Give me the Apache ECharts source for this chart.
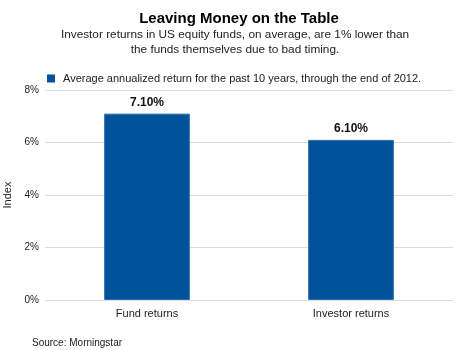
<!DOCTYPE html>
<html><head><meta charset="utf-8">
<script src="https://cdn.jsdelivr.net/npm/echarts@6/dist/echarts.min.js"></script>
<style>html,body{margin:0;padding:0;background:#fff}#c{width:470px;height:350px}</style>
</head><body><div id="c"></div>
<script>
const categories = ['Fund returns', 'Investor returns'];
const values = [7.10, 6.10];
const seriesName = 'Average annualized return for the past 10 years, through the end of 2012.';
const yTicks = [0, 2, 4, 6, 8];

const chart = echarts.init(document.getElementById('c'), null, {renderer: 'canvas'});
const F = 'Liberation Sans, Arial, sans-serif';
chart.setOption({
  animation: false,
  textStyle: {fontFamily: F},
  title: [{
    text: 'Leaving Money on the Table',
    left: 234, top: 6, textAlign: 'center',
    textStyle: {fontSize: 15, fontWeight: 'bold', color: '#000', fontFamily: F}
  }, {
    text: 'Investor returns in US equity funds, on average, are 1% lower than\nthe funds themselves due to bad timing.',
    left: 230, top: 22, textAlign: 'center',
    textStyle: {fontSize: 11.8, fontWeight: 'normal', color: '#222', lineHeight: 15, fontFamily: F}
  }, {
    text: 'Source: Morningstar',
    left: 27, top: 333,
    textStyle: {fontSize: 10, fontWeight: 'normal', color: '#222', fontFamily: F}
  }],
  legend: {
    left: 42, top: 68, itemWidth: 8, itemHeight: 8, itemGap: 0,
    icon: 'rect',
    itemStyle: {borderWidth: 0},
    textStyle: {fontSize: 11, color: '#222', fontFamily: F, padding: [0, 0, 0, 3]},
    data: [seriesName]
  },
  grid: {left: 45, right: 17, top: 90, bottom: 50, containLabel: false, outerBoundsMode: 'none'},
  xAxis: {
    type: 'category', data: categories,
    axisLine: {show: false}, axisTick: {show: false},
    axisLabel: {fontSize: 11, color: '#222', margin: 8, fontFamily: F}
  },
  yAxis: {
    type: 'value', min: yTicks[0], max: yTicks[yTicks.length - 1], interval: 2,
    name: 'Index', nameLocation: 'middle', nameGap: 30, nameRotate: 90,
    nameTextStyle: {fontSize: 11, color: '#222', fontFamily: F},
    axisLine: {show: false}, axisTick: {show: false},
    axisLabel: {fontSize: 10, color: '#222', margin: 6, formatter: v => v + '%', fontFamily: F},
    splitLine: {lineStyle: {color: '#dcdcdc', width: 1}}
  },
  series: [{
    name: seriesName, type: 'bar', data: values,
    barWidth: '42%',
    itemStyle: {color: '#00529b', borderColor: '#2a6db0', borderWidth: 1},
    label: {show: true, position: 'top', distance: 5, formatter: p => p.value.toFixed(2) + '%',
      fontSize: 12, fontWeight: 'bold', color: '#111', fontFamily: F}
  }]
});
</script></body></html>
